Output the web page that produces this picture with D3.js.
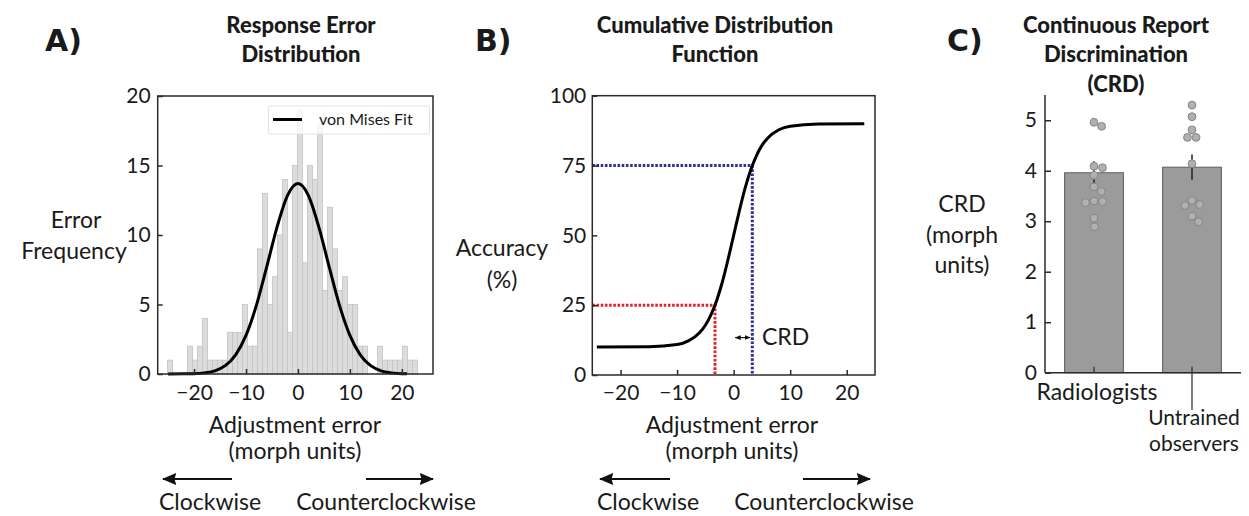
<!DOCTYPE html>
<html>
<head>
<meta charset="utf-8">
<script src="https://cdn.jsdelivr.net/npm/d3@7"></script>
<style>
  body { margin: 0; background: #fff; }
  svg text { font-family: Lato, sans-serif; fill: #1a1a1a; }
  svg text.ttl { font-family: Lato, sans-serif; font-weight: 900; }
  svg text.pnl { font-family: "DejaVu Sans", sans-serif; font-weight: bold; }
</style>
</head>
<body>
<svg id="fig" width="1249" height="516"></svg>
<script>
// ---- data ----
const histStart = -25.1
const histEnd = 23.0
const histCounts = [1,0,0,0,2,1,2,4,1,1, 1,1,3,3,3,5,2,2,9,13,
                    5,7,10,14,3,15,19,8,15,14, 18,6,12,9,6,7,5,5,2,2,
                    0,0,2,1,1,1,1,2,1,1]
const fitX = [-25,-22,-20,-18,-16,-14,-12,-10,-8,-6,-4,-2,0,2,4,6,8,10,12,14,16,18,20,21]
const fitY = [0,0.01,0.02,0.08,0.23,0.6,1.38,2.78,4.94,7.72,10.6,12.85,13.7,12.85,10.6,7.72,4.94,2.78,1.38,0.6,0.23,0.08,0.02,0.01]

const cdfX = [-24.2,-15,-10,-8,-6,-5,-4,-3,-2,-1,0,1,2,3,4,5,6,8,10,15,23.1]
const cdfY = [10,10.1,10.9,12.2,15.2,17.8,21.6,26.7,33.3,41.3,50,58.7,66.7,73.3,78.4,82.2,84.8,87.8,89.1,89.9,90]
const critAcc = [25, 75]
const critErr = [-3.3, 3.3]

const groups = ["Radiologists", "Untrained observers"]
const groupMeans = [3.96, 4.07]
const groupSem = [0.23, 0.25]
const radiologistsCRD = [4.96,4.88,4.06,4.09,3.91,3.68,3.59,3.39,3.37,3.40,3.06,2.89]
const untrainedCRD = [5.30,5.07,4.81,4.66,4.66,4.14,3.33,3.31,3.41,3.10,2.99]

const countTicks = [0,5,10,15,20]
const errTicks = [-20,-10,0,10,20]
const accTicks = [0,25,50,75,100]
const crdTicks = [0,1,2,3,4,5]

const svg = d3.select('#fig')
const axisColor = '#2a2a2a'

const defs = svg.append('defs')
defs.append('marker')
  .attr('id', 'head')
  .attr('viewBox', '0 0 12 10')
  .attr('refX', 11).attr('refY', 5)
  .attr('markerWidth', 6.6).attr('markerHeight', 5.5)
  .attr('markerUnits', 'strokeWidth')
  .attr('orient', 'auto-start-reverse')
  .append('path').attr('d', 'M0,0 L12,5 L0,10 L1.5,5 z').attr('fill', '#111')

defs.append('marker')
  .attr('id', 'smallhead')
  .attr('viewBox', '0 0 10 10')
  .attr('refX', 9).attr('refY', 5)
  .attr('markerWidth', 5).attr('markerHeight', 5)
  .attr('markerUnits', 'strokeWidth')
  .attr('orient', 'auto-start-reverse')
  .append('path').attr('d', 'M0,1 L10,5 L0,9 z').attr('fill', '#111')

function label(x, y, txt, size, cls, anchor) {
  return svg.append('text')
    .attr('class', cls || null)
    .attr('x', x).attr('y', y)
    .attr('text-anchor', anchor || 'middle')
    .attr('font-size', size)
    .text(txt)
}

function styleAxis(g) {
  g.attr('color', axisColor).attr('font-family', 'Lato').attr('font-size', 21)
  g.select('.domain').remove()
  g.selectAll('.tick line').attr('stroke-width', 1.5)
}

function directionArrows(x1a, x1b, x2a, x2b, cw, ccw) {
  svg.append('line').attr('x1', x1a).attr('x2', x1b).attr('y1', 479).attr('y2', 479)
    .attr('stroke', '#111').attr('stroke-width', 2.2).attr('marker-end', 'url(#head)')
  svg.append('line').attr('x1', x2a).attr('x2', x2b).attr('y1', 479).attr('y2', 479)
    .attr('stroke', '#111').attr('stroke-width', 2.2).attr('marker-end', 'url(#head)')
  label(cw, 510, 'Clockwise', 23)
  label(ccw, 510, 'Counterclockwise', 23)
}

// ---- A) histogram ----
const xA = d3.scaleLinear().domain([-27, 26]).range([157.7, 433])
const yA = d3.scaleLinear().domain([0, 20]).range([374, 96])
const binW = (histEnd - histStart) / histCounts.length

svg.append('g').selectAll('rect')
  .data(histCounts)
  .join('rect')
  .attr('x', (d, i) => xA(histStart + i * binW))
  .attr('width', xA(binW) - xA(0))
  .attr('y', d => yA(d))
  .attr('height', d => yA(0) - yA(d))
  .attr('fill', '#dcdcdc')
  .attr('stroke', '#c2c2c2')
  .attr('stroke-width', 0.8)

const fitLine = d3.line().x(d => xA(d[0])).y(d => yA(d[1])).curve(d3.curveMonotoneX)
svg.append('path')
  .datum(fitX.map((x, i) => [x, fitY[i]]))
  .attr('d', fitLine)
  .attr('fill', 'none').attr('stroke', '#000').attr('stroke-width', 3)

// legend
svg.append('rect').attr('x', 268.5).attr('y', 106).attr('width', 161).attr('height', 28)
  .attr('fill', '#fff').attr('fill-opacity', 0.8).attr('stroke', '#e2e2e2').attr('rx', 2)
svg.append('line').attr('x1', 273).attr('x2', 302).attr('y1', 119.5).attr('y2', 119.5)
  .attr('stroke', '#000').attr('stroke-width', 3)
label(319, 125, 'von Mises Fit', 16, null, 'start')

svg.append('rect').attr('x', 157.7).attr('y', 96).attr('width', 433 - 157.7).attr('height', 374 - 96)
  .attr('fill', 'none').attr('stroke', axisColor).attr('stroke-width', 1.5)

svg.append('g').attr('transform', 'translate(157.7,0)')
  .call(d3.axisLeft(yA).tickValues(countTicks).tickSize(-5).tickPadding(7))
  .call(styleAxis)
svg.append('g').attr('transform', 'translate(0,374)')
  .call(d3.axisBottom(xA).tickValues(errTicks).tickSize(-5).tickPadding(11))
  .call(styleAxis)

label(45, 51, 'A)', 30, 'pnl', 'start')
label(301, 33, 'Response Error', 22, 'ttl')
label(301, 62, 'Distribution', 22, 'ttl')
label(76, 228, 'Error', 23)
label(74, 259, 'Frequency', 23)
label(295, 433, 'Adjustment error', 23)
label(295, 459, '(morph units)', 23)
directionArrows(232, 163, 366, 433, 210, 386)

// ---- B) cumulative distribution ----
const xB = d3.scaleLinear().domain([-25, 25]).range([592.3, 875])
const yB = d3.scaleLinear().domain([0, 100]).range([375, 95.7])

const critColors = ['#e0262b', '#2e2f98']
critAcc.forEach((acc, i) => {
  svg.append('path')
    .attr('d', `M${xB(-25)},${yB(acc)} H${xB(critErr[i])} V${yB(0)}`)
    .attr('fill', 'none')
    .attr('stroke', critColors[i])
    .attr('stroke-width', 3)
    .attr('stroke-dasharray', '2.6,1.6')
})

const cdfLine = d3.line().x(d => xB(d[0])).y(d => yB(d[1])).curve(d3.curveMonotoneX)
svg.append('path')
  .datum(cdfX.map((x, i) => [x, cdfY[i]]))
  .attr('d', cdfLine)
  .attr('fill', 'none').attr('stroke', '#000').attr('stroke-width', 3)

svg.append('line')
  .attr('x1', xB(0.3)).attr('x2', xB(2.9)).attr('y1', yB(13.4)).attr('y2', yB(13.4))
  .attr('stroke', '#111').attr('stroke-width', 1.2)
  .attr('marker-start', 'url(#smallhead)').attr('marker-end', 'url(#smallhead)')
label(xB(5), yB(10.7), 'CRD', 23, null, 'start')

svg.append('rect').attr('x', 592.3).attr('y', 95.7).attr('width', 875 - 592.3).attr('height', 375 - 95.7)
  .attr('fill', 'none').attr('stroke', axisColor).attr('stroke-width', 1.5)

svg.append('g').attr('transform', 'translate(592.3,0)')
  .call(d3.axisLeft(yB).tickValues(accTicks).tickSize(-5).tickPadding(6))
  .call(styleAxis)
svg.append('g').attr('transform', 'translate(0,375)')
  .call(d3.axisBottom(xB).tickValues(errTicks).tickSize(-5).tickPadding(10))
  .call(styleAxis)

label(475, 51, 'B)', 30, 'pnl', 'start')
label(715, 33, 'Cumulative Distribution', 22, 'ttl')
label(715, 62, 'Function', 22, 'ttl')
label(502, 256, 'Accuracy', 23)
label(502, 288, '(%)', 23)
label(732, 433, 'Adjustment error', 23)
label(732, 459, '(morph units)', 23)
directionArrows(670, 600, 803, 870, 648, 824)

// ---- C) CRD bars ----
const xC = d3.scaleBand().domain(groups).range([1045, 1241]).paddingInner(0.4).paddingOuter(0.2)
const yC = d3.scaleLinear().domain([0, 5.5]).range([372.7, 95])

svg.append('g').selectAll('rect')
  .data(groups)
  .join('rect')
  .attr('x', d => xC(d))
  .attr('width', xC.bandwidth())
  .attr('y', (d, i) => yC(groupMeans[i]))
  .attr('height', (d, i) => yC(0) - yC(groupMeans[i]))
  .attr('fill', '#9b9b9b')
  .attr('stroke', '#5e5e5e')
  .attr('stroke-width', 1)

svg.append('g').selectAll('line')
  .data(groups)
  .join('line')
  .attr('x1', d => xC(d) + xC.bandwidth() / 2)
  .attr('x2', d => xC(d) + xC.bandwidth() / 2)
  .attr('y1', (d, i) => yC(groupMeans[i] - groupSem[i]))
  .attr('y2', (d, i) => yC(groupMeans[i] + groupSem[i]))
  .attr('stroke', '#222').attr('stroke-width', 1.5)

// simple beeswarm placement
function swarm(vals, r) {
  const d = 2 * r + 0.8
  const placed = []
  vals.map(v => ({ v, y: yC(v) }))
    .sort((a, b) => a.y - b.y)
    .forEach(p => {
      const cands = [0]
      placed.forEach(q => {
        const dy = Math.abs(q.y - p.y)
        if (dy < d) {
          const dx = Math.sqrt(d * d - dy * dy)
          cands.push(q.dx + dx, q.dx - dx)
        }
      })
      cands.sort((a, b) => Math.abs(a) - Math.abs(b))
      p.dx = cands.find(c => placed.every(q => Math.hypot(q.dx - c, q.y - p.y) >= d - 1e-6))
      placed.push(p)
    })
  return placed
}

;[radiologistsCRD, untrainedCRD].forEach((vals, gi) => {
  const cx = xC(groups[gi]) + xC.bandwidth() / 2
  svg.append('g').selectAll('circle')
    .data(swarm(vals, 3.9))
    .join('circle')
    .attr('cx', d => cx + d.dx)
    .attr('cy', d => d.y)
    .attr('r', 3.9)
    .attr('fill', '#b0b0b0')
    .attr('stroke', '#858585')
    .attr('stroke-width', 1)
})

svg.append('g').attr('transform', 'translate(1045,0)')
  .call(d3.axisLeft(yC).tickValues(crdTicks).tickFormat(d3.format('d')).tickSize(-6).tickPadding(8))
  .call(styleAxis)
svg.append('line').attr('x1', 1045).attr('x2', 1045).attr('y1', 95).attr('y2', 372.7)
  .attr('stroke', axisColor).attr('stroke-width', 1.5)
svg.append('line').attr('x1', 1045).attr('x2', 1241).attr('y1', 372.7).attr('y2', 372.7)
  .attr('stroke', axisColor).attr('stroke-width', 1.5)

// category ticks: first short and inward, second staggered down
groups.forEach((g, i) => {
  const cx = xC(g) + xC.bandwidth() / 2
  svg.append('line').attr('x1', cx).attr('x2', cx)
    .attr('y1', 366.7).attr('y2', i === 0 ? 372.7 : 410)
    .attr('stroke', axisColor).attr('stroke-width', 1.2)
})
label(xC(groups[0]) + xC.bandwidth() / 2 + 3, 400, groups[0], 23)
// second category label wrapped onto two lines
const untrainedLabel = svg.append('text')
  .attr('text-anchor', 'middle')
  .attr('font-size', 21)
untrainedLabel.selectAll('tspan')
  .data(groups[1].split(' '))
  .join('tspan')
  .attr('x', 1194)
  .attr('y', (d, i) => 425 + i * 26)
  .text(d => d)

label(947, 51, 'C)', 30, 'pnl', 'start')
label(1116, 33, 'Continuous Report', 22, 'ttl')
label(1116, 62, 'Discrimination', 22, 'ttl')
label(1116, 92, '(CRD)', 22, 'ttl')
label(962, 212, 'CRD', 23)
label(962, 243, '(morph', 23)
label(962, 273, 'units)', 23)
</script>
</body>
</html>
